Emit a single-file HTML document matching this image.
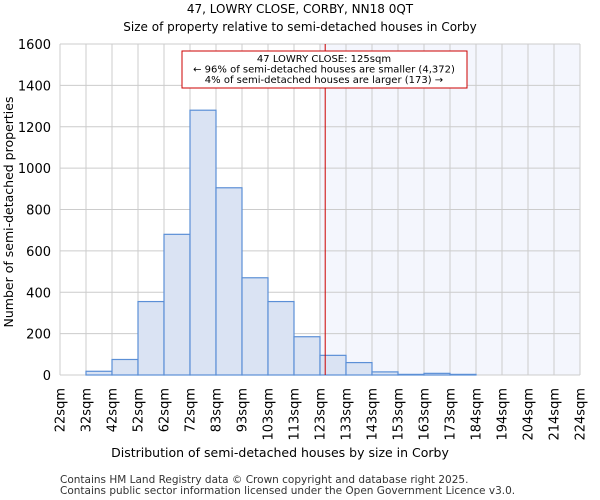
<!DOCTYPE html>
<html><head><meta charset="utf-8"><style>
body{margin:0;background:#fff;}
svg{display:block;font-family:"DejaVu Sans","Liberation Sans",sans-serif;}
</style></head><body>
<svg id="chart" width="600" height="500">
<text x="300" y="13" text-anchor="middle" font-size="12">47, LOWRY CLOSE, CORBY, NN18 0QT</text>
<text x="300" y="31" text-anchor="middle" font-size="12">Size of property relative to semi-detached houses in Corby</text>
<g id="plot"></g>
<text x="280" y="457" text-anchor="middle" font-size="12.5">Distribution of semi-detached houses by size in Corby</text>
<text transform="translate(13,212) rotate(-90)" text-anchor="middle" font-size="12.5">Number of semi-detached properties</text>
<text x="60" y="483" font-size="10.5" fill="#333">Contains HM Land Registry data © Crown copyright and database right 2025.</text>
<text x="60" y="494" font-size="10.5" fill="#333">Contains public sector information licensed under the Open Government Licence v3.0.</text>
</svg>
<script>
const binLabels = ["22sqm","32sqm","42sqm","52sqm","62sqm","72sqm","83sqm","93sqm","103sqm","113sqm","123sqm","133sqm","143sqm","153sqm","163sqm","173sqm","184sqm","194sqm","204sqm","214sqm","224sqm"];
const counts = [0,18,75,355,680,1280,905,470,355,185,95,60,15,3,8,3,0,0,0,0,0];
const yTicks = [0,200,400,600,800,1000,1200,1400,1600];
const markerBin = 10.2;
const highlightFromBin = 10;

const NS = "http://www.w3.org/2000/svg";
const L = 60, R = 580, T = 44, B = 375, yMax = 1600;
const nBins = binLabels.length - 1;
const bw = (R - L) / nBins;
const xs = i => L + i * bw;
const ys = v => B - v / yMax * (B - T);
const g = document.getElementById("plot");
function mk(tag, attrs) { const e = document.createElementNS(NS, tag); for (const k in attrs) e.setAttribute(k, attrs[k]); g.appendChild(e); return e; }

let sh = mk("rect", {x: xs(highlightFromBin), y: T, width: R - xs(highlightFromBin), height: B - T, fill: "#f4f6fd"});



for (let i = 0; i <= nBins; i++) {
  let l = mk("line", {x1: xs(i), x2: xs(i), y1: T, y2: B, stroke: "#ccc", "stroke-width": 1});
  
  
  let t = mk("text", {transform: `translate(${xs(i) + 4.5},388) rotate(-90)`, "text-anchor": "end", "font-size": 13});
  t.textContent = binLabels[i];
  
  
}
yTicks.forEach(v => {
  let l = mk("line", {x1: L, x2: R, y1: ys(v), y2: ys(v), stroke: "#ccc", "stroke-width": 1});
  
  
  let t = mk("text", {x: 51, y: ys(v) + 5, "text-anchor": "end", "font-size": 13});
  t.textContent = v;
  
  
});

counts.forEach((c, i) => {
  if (i >= nBins) return;
  let r = mk("rect", {x: xs(i), y: ys(c), width: bw, height: B - ys(c), fill: "#dae3f3", stroke: "#5b8fd6", "stroke-width": 1.2});
  
  
});

let ml = mk("line", {x1: xs(markerBin), x2: xs(markerBin), y1: T, y2: B, stroke: "#c00", "stroke-width": 1});



let box = mk("rect", {x: 182, y: 51, width: 285, height: 37, fill: "#fff", stroke: "#c00", "stroke-width": 1});


["47 LOWRY CLOSE: 125sqm", "← 96% of semi-detached houses are smaller (4,372)", "4% of semi-detached houses are larger (173) →"].forEach((s, k) => {
  let t = mk("text", {x: 324, y: 62 + k * 10.5, "text-anchor": "middle", "font-size": 10});
  t.textContent = s;
  
  
});
</script>
</body></html>
